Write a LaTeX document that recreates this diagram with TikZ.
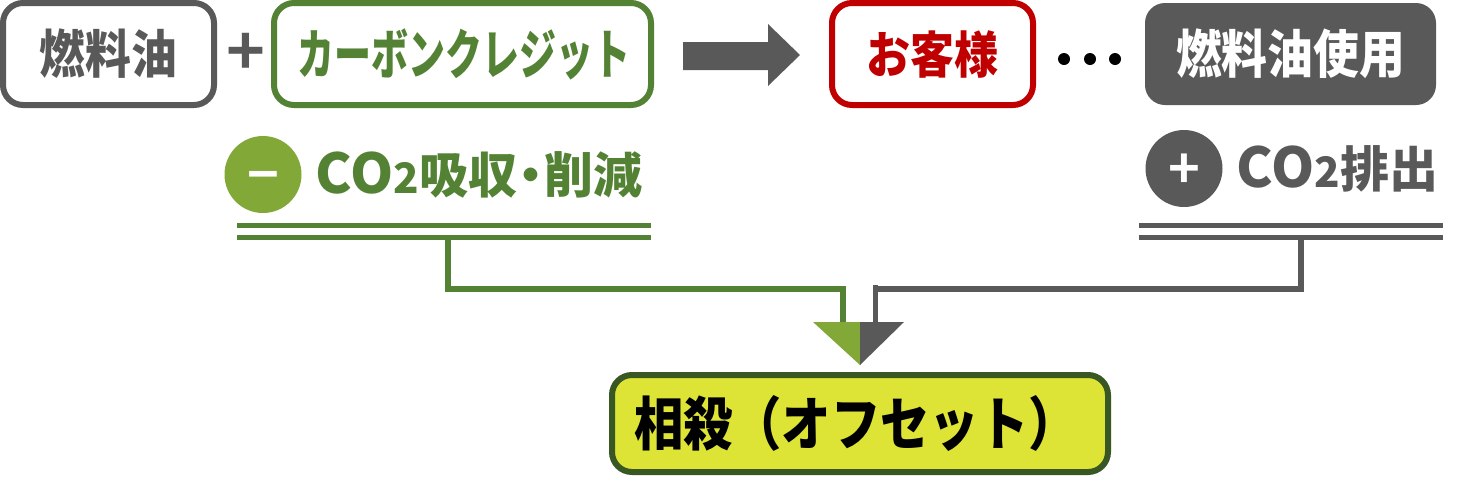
\documentclass[tikz,border=0pt]{standalone}
\usepackage{fontspec}
\usepackage{xcolor}
\setmainfont{Noto Sans CJK JP}[BoldFont={Noto Sans CJK JP Black}]
\newfontfamily\signfont{Noto Sans CJK JP Bold}
\usetikzlibrary{arrows.meta, positioning, calc}

\definecolor{inkgray}{HTML}{595959}
\definecolor{leafgreen}{HTML}{548235}
\definecolor{lightgreen}{HTML}{82A838}
\definecolor{darkgreen}{HTML}{385723}
\definecolor{custred}{HTML}{C00000}
\definecolor{offsetfill}{HTML}{DDE435}

\newcommand{\squeeze}[2]{\scalebox{#1}[1]{#2}}
\newcommand{\cotwo}{{\signfont\fontsize{27.5}{27.5}\selectfont CO}{\signfont\fontsize{21}{21}\selectfont 2}}
\newcommand{\signtext}[1]{\smash{\raisebox{-10pt}{#1}}}

\tikzset{
  itembox/.style={draw, rounded corners=10pt, line width=3pt, fill=white, outer sep=0pt, inner sep=0pt,
    minimum height=51pt, font=\fontsize{26}{26}\selectfont\bfseries},
  signdot/.style={circle, minimum size=38.5pt, inner sep=0pt, outer sep=0pt, text=white,
    font=\signfont\fontsize{27}{27}\selectfont},
  co2label/.style={anchor=west, inner sep=0pt, font=\fontsize{24.5}{24.5}\selectfont\bfseries},
  rail/.style={line width=2.65pt},
  feed/.style={line width=2.75pt, line cap=butt}
}

\begin{document}
\begin{tikzpicture}[x=0.5pt, y=-0.5pt]
  \useasboundingbox (0,0) rectangle (1479,494);

  % top row
  \node[itembox, draw=inkgray, text=inkgray, minimum width=105.5pt] (fuel) at (108.5,54) {\squeeze{0.88}{燃料油}};
  \node[itembox, draw=leafgreen, text=leafgreen, minimum width=188.5pt, right=30pt of fuel] (credit) {\hspace*{1.5pt}\squeeze{0.685}{\fontsize{27}{27}\selectfont カーボンクレジット}};
  \node[inner sep=0pt, text=inkgray, xshift=1pt, font=\signfont\fontsize{33}{33}\selectfont] (plus) at ($(fuel.east)!0.5!(credit.west)$) {+};
  \node[itembox, draw=custred, text=custred, minimum width=100.5pt, right=90.5pt of credit, font=\fontsize{25}{25}\selectfont\bfseries] (customer) {\squeeze{0.88}{お客様}};
  \node[itembox, draw=none, fill=inkgray, text=white, minimum width=145.5pt, right=56pt of customer] (usage) {\squeeze{0.88}{燃料油使用}};

  % big arrow between credit and customer
  \fill[inkgray] (683,42) -- (768,42) -- (768,24) -- (800,55) -- (768,86) -- (768,70) -- (683,70) -- cycle;

  % the three dots
  \foreach \dotx in {1064,1090,1115}
    \fill[black] (\dotx,59) circle (3pt);

  % co2 labels
  \node[signdot, fill=lightgreen] (minus) at (263,174.5) {\signtext{\textminus}};
  \node[co2label, text=leafgreen, right=7pt of minus] (absorb) {\cotwo 吸収\hspace{-5.5pt}・\hspace{-5.5pt}削減};
  \node[signdot, fill=inkgray] (plussign) at (1184,168.5) {\signtext{+}};
  \node[co2label, text=inkgray, right=7pt of plussign] (emit) {\cotwo 排出};

  % double rails
  \coordinate (gl) at (237,225.3);
  \coordinate (gr) at (651,225.3);
  \coordinate (pl) at (1139,225.3);
  \coordinate (pr) at (1443,225.3);
  \draw[rail, leafgreen] (gl) -- (gr);
  \draw[rail, leafgreen] ($(gl)+(0,12)$) -- ($(gr)+(0,12)$);
  \draw[rail, inkgray] (pl) -- (pr);
  \draw[rail, inkgray] ($(pl)+(0,12)$) -- ($(pr)+(0,12)$);

  % result box
  \node[itembox, draw=darkgreen, fill=offsetfill, text=black, minimum width=248pt, minimum height=48.5pt] (offset) at (860,423.5)
    {\makebox[240pt][l]{\hspace{7pt}\squeeze{0.85}{\fontsize{29}{29}\selectfont 相殺（オフセット）}}};

  % triangle
  \coordinate (tip) at (860,365);
  \coordinate (topmid) at (860,322);
  \fill[lightgreen] (813,322) -- (topmid) -- (tip) -- cycle;
  \fill[inkgray] (904,322) -- (topmid) -- (tip) -- cycle;

  % feeds into the triangle
  \draw[feed, leafgreen] (448,237) |- (843,289) -- (843,322);
  \draw[feed, inkgray] (1301,237) |- (875.5,289);
  \draw[feed, inkgray] (875.5,285) -- (875.5,322);
\end{tikzpicture}
\end{document}
